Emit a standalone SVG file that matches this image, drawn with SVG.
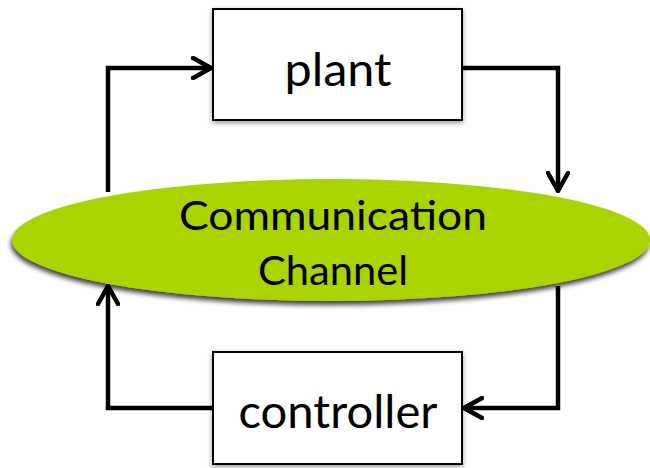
<svg xmlns="http://www.w3.org/2000/svg" width="650" height="468" viewBox="0 0 650 468">
  <defs>
    <filter id="shadow" x="-10%" y="-20%" width="120%" height="150%">
      <feGaussianBlur in="SourceAlpha" stdDeviation="2.5"/>
      <feOffset dx="0" dy="2" result="b"/>
      <feComponentTransfer><feFuncA type="linear" slope="0.4"/></feComponentTransfer>
      <feMerge><feMergeNode/><feMergeNode in="SourceGraphic"/></feMerge>
    </filter>
    <filter id="shadowDark" x="-10%" y="-20%" width="120%" height="150%">
      <feGaussianBlur in="SourceAlpha" stdDeviation="2.5"/>
      <feOffset dx="-1" dy="4" result="b"/>
      <feComponentTransfer><feFuncA type="linear" slope="0.75"/></feComponentTransfer>
      <feMerge><feMergeNode/><feMergeNode in="SourceGraphic"/></feMerge>
    </filter>
    <marker id="arrow" viewBox="0 0 22 24" refX="20" refY="12" markerWidth="22" markerHeight="24" markerUnits="userSpaceOnUse" orient="auto">
      <path d="M2,2 L20,12 L2,22" fill="none" stroke="#000" stroke-width="4.5" stroke-linecap="round" stroke-linejoin="miter"/>
    </marker>
    <style>
      .box { fill: #fff; stroke: #000; stroke-width: 2; }
      .lbl { font-family: Lato, "Open Sans", "Liberation Sans", sans-serif; fill: #000; text-anchor: middle; }
      .wire { fill: none; stroke: #000; stroke-width: 4.5; stroke-linejoin: miter; marker-end: url(#arrow); }
    </style>
  </defs>
  <rect width="650" height="468" fill="#fff"/>

  <g id="connectors">
    <path class="wire" d="M108,192 V68 H211"/>
    <path class="wire" d="M462,68 H558 V191"/>
    <path class="wire" d="M558,286 V408 H464"/>
    <path class="wire" d="M213,408 H108 V286"/>
  </g>

  <g id="channel">
    <ellipse cx="331" cy="240" rx="319" ry="61" fill="#aad400" filter="url(#shadowDark)"/>
    <text class="lbl" x="333" y="230" font-size="40" textLength="308" lengthAdjust="spacingAndGlyphs">Communication</text>
    <text class="lbl" x="333" y="285" font-size="40" textLength="150" lengthAdjust="spacingAndGlyphs">Channel</text>
  </g>

  <g id="plant">
    <rect class="box" x="213" y="9" width="249" height="111" filter="url(#shadow)"/>
    <text class="lbl" x="338" y="86" font-size="46" textLength="107" lengthAdjust="spacingAndGlyphs">plant</text>
  </g>

  <g id="controller">
    <rect class="box" x="213" y="352" width="249" height="112" filter="url(#shadow)"/>
    <text class="lbl" x="338" y="428" font-size="46" textLength="199" lengthAdjust="spacingAndGlyphs">controller</text>
  </g>
</svg>
